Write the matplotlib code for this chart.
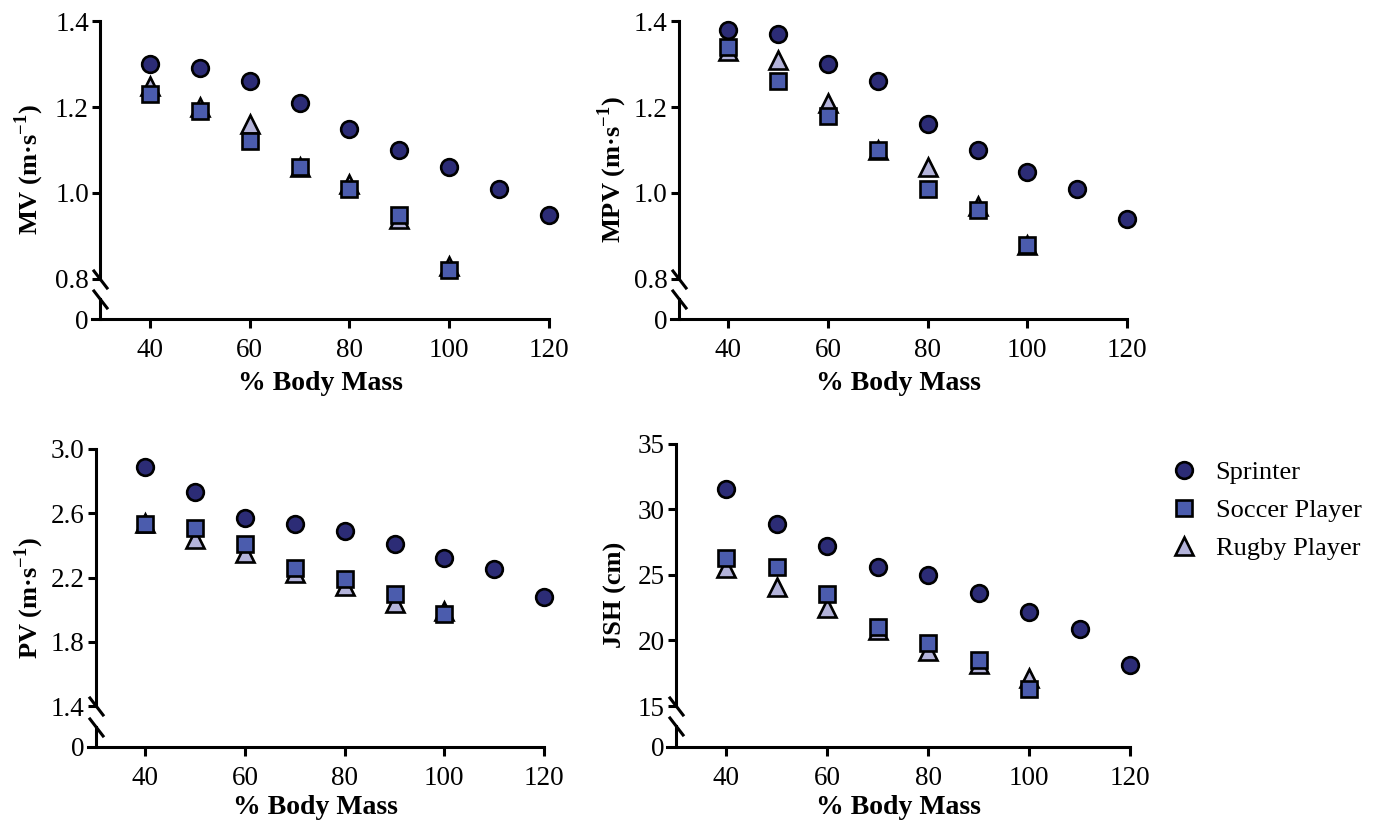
# Load-velocity profiles for three athlete groups, four panels with broken y axes
import matplotlib
matplotlib.use("Agg")
import matplotlib.pyplot as plt
import matplotlib.transforms as mtransforms

plt.rcParams["font.family"] = ["Liberation Serif", "DejaVu Serif"]
plt.rcParams["mathtext.fontset"] = "custom"
plt.rcParams["mathtext.rm"] = "Liberation Serif"
plt.rcParams["mathtext.bf"] = "Liberation Serif:bold"

# data
loads_sprinter = [40, 50, 60, 70, 80, 90, 100, 110, 120]
loads_team = [40, 50, 60, 70, 80, 90, 100]

mv_sprinter = [1.30, 1.29, 1.26, 1.21, 1.15, 1.10, 1.06, 1.01, 0.95]
mv_soccer = [1.23, 1.19, 1.12, 1.06, 1.01, 0.95, 0.82]
mv_rugby = [1.25, 1.20, 1.16, 1.06, 1.02, 0.94, 0.83]

mpv_sprinter = [1.38, 1.37, 1.30, 1.26, 1.16, 1.10, 1.05, 1.01, 0.94]
mpv_soccer = [1.34, 1.26, 1.18, 1.10, 1.01, 0.96, 0.88]
mpv_rugby = [1.33, 1.31, 1.21, 1.10, 1.06, 0.97, 0.88]

pv_sprinter = [2.89, 2.73, 2.57, 2.53, 2.49, 2.41, 2.32, 2.25, 2.08]
pv_soccer = [2.53, 2.51, 2.41, 2.26, 2.19, 2.10, 1.97]
pv_rugby = [2.54, 2.44, 2.35, 2.23, 2.15, 2.04, 1.99]

jsh_sprinter = [31.5, 28.9, 27.2, 25.6, 25.0, 23.6, 22.2, 20.9, 18.1]
jsh_soccer = [26.3, 25.6, 23.5, 21.0, 19.8, 18.5, 16.3]
jsh_rugby = [25.5, 24.1, 22.5, 20.8, 19.2, 18.2, 17.1]

group_names = ["Sprinter", "Soccer Player", "Rugby Player"]
x_ticks = [40, 60, 80, 100, 120]

W, H = 1375, 825
LW = 2.2
TICK_FS = 19.5
C_SPRINT = "#2c2c76"
C_SOCCER = "#4b5cad"
C_RUGBY = "#b3b3da"

fig = plt.figure(figsize=(W / 100, H / 100), dpi=100)


def box(x0, x1, y0, y1):
    # pixel rectangle (y from top) -> figure fraction
    return [x0 / W, 1 - y1 / H, (x1 - x0) / W, (y1 - y0) / H]


def add_break(ax, y):
    trans = mtransforms.blended_transform_factory(ax.transData, ax.transAxes)
    ax.plot([30], [y], transform=trans, marker=[(-1, 1.3), (1, -1.3)],
            markersize=14, mew=LW, color="k", linestyle="none",
            clip_on=False, zorder=10)


def panel(px, ylim, yticks, fmt, ylabel, ylabel_x, xlabel_y,
          sprinter, soccer, rugby):
    x30, x120, ytop, ybrk, ybtop, yzero = px
    left = x30 - 1.6 * (x120 - x30) / 90
    ax = fig.add_axes(box(left, x120, ytop, ybrk))
    axb = fig.add_axes(box(left, x120, ybtop, yzero))

    for a in (ax, axb):
        a.set_xlim(28.4, 120)
        a.patch.set_visible(False)
        for s in ("top", "right"):
            a.spines[s].set_visible(False)
        a.spines["left"].set_position(("data", 30))
        a.spines["left"].set_linewidth(LW)
        a.spines["bottom"].set_linewidth(LW)

    # upper part with the data
    ax.spines["bottom"].set_visible(False)
    ax.set_ylim(*ylim)
    ax.set_yticks(yticks)
    ax.set_yticklabels([fmt % v for v in yticks])
    ax.tick_params(axis="x", bottom=False, labelbottom=False)
    ax.tick_params(axis="y", direction="out", length=6, width=LW,
                   labelsize=TICK_FS, pad=2)

    ax.plot(loads_sprinter, sprinter, "o", ms=12, mfc=C_SPRINT, mec="k",
            mew=1.9, clip_on=False, zorder=5, label=group_names[0])
    ax.plot(loads_team, soccer, "s", ms=11.5, mfc=C_SOCCER, mec="k",
            mew=1.9, clip_on=False, zorder=4, label=group_names[1])
    ax.plot(loads_team, rugby, "^", ms=12.5, mfc=C_RUGBY, mec="k",
            mew=1.9, clip_on=False, zorder=3, label=group_names[2])

    # short lower part down to zero
    axb.set_ylim(0, 1)
    axb.set_yticks([0])
    axb.set_yticklabels(["0"])
    axb.tick_params(axis="y", length=0, labelsize=TICK_FS, pad=8)
    axb.set_xticks(x_ticks)
    axb.tick_params(axis="x", direction="out", length=6.5, width=LW,
                    labelsize=TICK_FS, pad=7)

    add_break(ax, 0)
    add_break(axb, 1)

    axb.set_xlabel("% Body Mass", fontsize=20, fontweight="bold")
    axb.xaxis.label.set_va("center")
    axb.xaxis.set_label_coords((left + x120) / 2 / W, 1 - xlabel_y / H,
                               transform=fig.transFigure)
    ax.set_ylabel(ylabel, fontsize=19, fontweight="bold")
    ax.yaxis.label.set_va("center")
    ax.yaxis.set_label_coords(ylabel_x / W, 1 - (ytop + yzero) / 2 / H,
                              transform=fig.transFigure)
    return ax


ax_mv = panel((100, 549, 21, 279, 299, 319), (0.8, 1.4), [0.8, 1.0, 1.2, 1.4],
              "%.1f", "MV (m·s$^{\\mathbf{-1}}$)", 29, 384,
              mv_sprinter, mv_soccer, mv_rugby)
panel((678.5, 1127, 21, 279, 299, 319), (0.8, 1.4), [0.8, 1.0, 1.2, 1.4],
      "%.1f", "MPV (m·s$^{\\mathbf{-1}}$)", 612, 384,
      mpv_sprinter, mpv_soccer, mpv_rugby)
panel((95.5, 544, 449, 706, 727, 747), (1.4, 3.0), [1.4, 1.8, 2.2, 2.6, 3.0],
      "%.1f", "PV (m·s$^{\\mathbf{-1}}$)", 29, 808,
      pv_sprinter, pv_soccer, pv_rugby)
panel((675.5, 1130, 443.5, 706, 726, 747), (15, 35), [15, 20, 25, 30, 35],
      "%d", "JSH (cm)", 615, 808,
      jsh_sprinter, jsh_soccer, jsh_rugby)

handles, labels = ax_mv.get_legend_handles_labels()
fig.legend(handles, labels, loc="upper left",
           bbox_to_anchor=(1168 / W, 1 - 461 / H), frameon=False,
           fontsize=19, handlelength=1.2, handletextpad=0.6,
           labelspacing=0.55, borderpad=0, borderaxespad=0)

fig.savefig("out.png", dpi=100)
plt.close(fig)
